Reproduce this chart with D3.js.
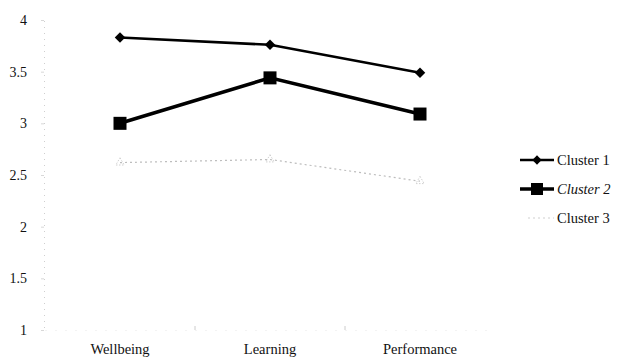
<!DOCTYPE html>
<html>
<head>
<meta charset="utf-8">
<script src="https://cdn.jsdelivr.net/npm/d3@7"></script>
<style>
  html, body { margin: 0; padding: 0; background: #fff; }
  text { font-family: "Liberation Serif", "DejaVu Serif", serif; fill: #111; }
</style>
</head>
<body>
<svg id="chart" width="619" height="363"></svg>
<script>
// Mean scores per dimension for each cluster
const categories = ["Wellbeing", "Learning", "Performance"];
const cluster1 = [3.83, 3.76, 3.49];
const cluster2 = [3.00, 3.44, 3.09];
const cluster3 = [2.62, 2.65, 2.44];
const seriesNames = ["Cluster 1", "Cluster 2", "Cluster 3"];
const yTicks = [1, 1.5, 2, 2.5, 3, 3.5, 4];

const svg = d3.select("#chart");

const x = d3.scaleBand().domain(categories).range([45, 495]);
const y = d3.scaleLinear().domain([1, 4]).range([330, 20]);
const cx = c => x(c) + x.bandwidth() / 2;

// Faint y axis
const yAxis = svg.append("g").attr("transform", "translate(44,0)")
  .call(d3.axisLeft(y).tickValues(yTicks).tickSize(3).tickPadding(14)
    .tickFormat(d => String(d)));
yAxis.select(".domain").attr("stroke", "#cfcfcf").attr("stroke-dasharray", "1,5");
yAxis.selectAll(".tick line").attr("stroke", "#d8d8d8");
yAxis.selectAll(".tick text").style("font-size", "14px").attr("fill", "#111");

// Faint x axis with category labels
const xAxis = svg.append("g").attr("transform", "translate(0,330)")
  .call(d3.axisBottom(x).tickSize(0).tickPadding(14));
xAxis.select(".domain").attr("stroke", "#e6e6e6").attr("stroke-dasharray", "1,9");
xAxis.selectAll(".tick text").style("font-size", "14.5px").attr("fill", "#111");
// boundary ticks between categories
svg.append("g").selectAll("line")
  .data(categories.slice(1))
  .join("line")
  .attr("x1", d => x(d)).attr("x2", d => x(d))
  .attr("y1", 326).attr("y2", 330)
  .attr("stroke", "#cccccc");

const line = d3.line().x((d, i) => cx(categories[i])).y(d => y(d));

// Cluster 3: light grey dotted trace
svg.append("path").datum(cluster3)
  .attr("d", line).attr("fill", "none")
  .attr("stroke", "#bdbdbd").attr("stroke-width", 1.2)
  .attr("stroke-dasharray", "2,3");
svg.append("g").selectAll("path")
  .data(cluster3).join("path")
  .attr("transform", (d, i) => `translate(${cx(categories[i])},${y(d)})`)
  .attr("d", d3.symbol(d3.symbolTriangle, 30))
  .attr("fill", "none").attr("stroke", "#c4c4c4").attr("stroke-width", 0.8)
  .attr("stroke-dasharray", "1.5,1.5");

// Cluster 2: heavy line with square markers
svg.append("path").datum(cluster2)
  .attr("d", line).attr("fill", "none")
  .attr("stroke", "#000").attr("stroke-width", 3.6);
svg.append("g").selectAll("rect")
  .data(cluster2).join("rect")
  .attr("x", (d, i) => cx(categories[i]) - 6.5)
  .attr("y", d => y(d) - 6.5)
  .attr("width", 13).attr("height", 13)
  .attr("fill", "#000");

// Cluster 1: line with diamond markers
svg.append("path").datum(cluster1)
  .attr("d", line).attr("fill", "none")
  .attr("stroke", "#000").attr("stroke-width", 2.6);
svg.append("g").selectAll("path")
  .data(cluster1).join("path")
  .attr("transform", (d, i) => `translate(${cx(categories[i])},${y(d)})`)
  .attr("d", d3.symbol(d3.symbolDiamond2, 70))
  .attr("fill", "#000");

// Legend
const legend = svg.append("g");
const ly = [160, 189, 218];
seriesNames.forEach((name, i) => {
  const g = legend.append("g").attr("transform", `translate(520,${ly[i]})`);
  if (i === 0) {
    g.append("line").attr("x1", 0).attr("x2", 34).attr("stroke", "#000").attr("stroke-width", 2.4);
    g.append("path").attr("transform", "translate(17,0)")
      .attr("d", d3.symbol(d3.symbolDiamond2, 55)).attr("fill", "#000");
  } else if (i === 1) {
    g.append("line").attr("x1", 0).attr("x2", 34).attr("stroke", "#000").attr("stroke-width", 3.4);
    g.append("rect").attr("x", 11).attr("y", -6).attr("width", 12).attr("height", 12).attr("fill", "#000");
  } else {
    g.append("line").attr("x1", 8).attr("x2", 34).attr("stroke", "#cfcfcf")
      .attr("stroke-width", 1).attr("stroke-dasharray", "2,3");
  }
  g.append("text").attr("x", 37).attr("y", 5)
    .style("font-size", "14.5px")
    .style("font-style", i === 1 ? "italic" : "normal")
    .text(name);
});
</script>
</body>
</html>
